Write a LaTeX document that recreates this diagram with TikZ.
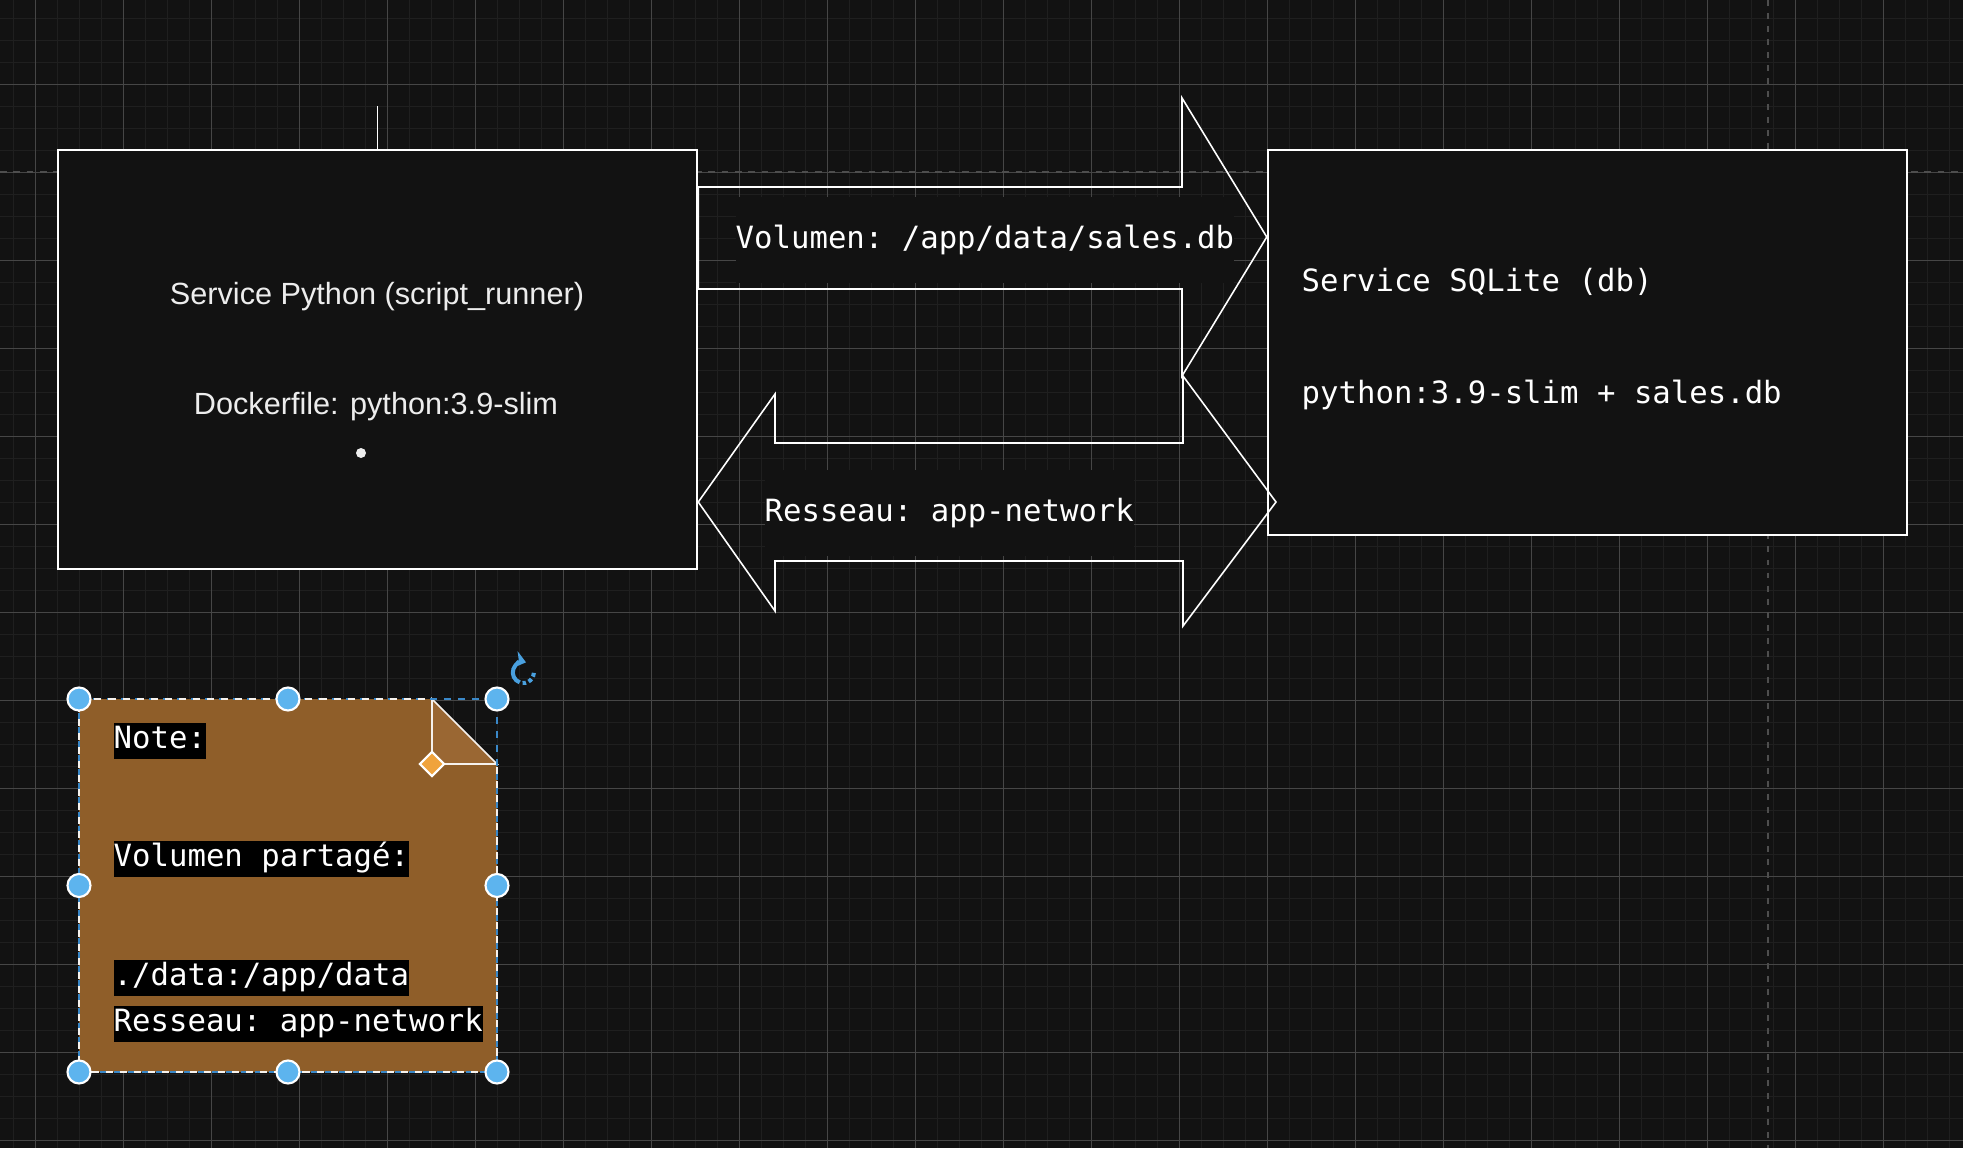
\documentclass[tikz,border=0pt]{standalone}
\usepackage{fontspec}
\setmainfont{Liberation Sans}
\setmonofont{DejaVu Sans Mono}
\usetikzlibrary{positioning,arrows.meta,calc,shapes.geometric}
\definecolor{bg}{HTML}{121212}
\definecolor{gmin}{HTML}{1F1F1F}
\definecolor{gmaj}{HTML}{464646}
\definecolor{guide}{HTML}{4E4E4E}
\definecolor{txt}{HTML}{EDEDED}
\definecolor{notefill}{HTML}{8F5E29}
\definecolor{foldfill}{HTML}{9A6733}
\definecolor{handle}{HTML}{5DB4EE}
\definecolor{selblue}{HTML}{3A88C8}
\definecolor{knob}{HTML}{F0A33C}
\definecolor{rotc}{HTML}{49A0DF}
\tikzset{
  svc/.style={draw=white, fill=bg, line width=0.6pt, inner sep=0pt},
  sans/.style={font=\fontsize{8.72}{10.2}\selectfont, text=txt, inner sep=0pt},
  mono/.style={font=\ttfamily\fontsize{8.72}{10.2}\selectfont, text=white, inner sep=0pt},
  blk/.style={draw=white, line width=0.45pt},
  lbl/.style={mono, fill=bg, anchor=west},
  hl/.style={mono, fill=black, anchor=west},
  hd/.style={circle, fill=handle, draw=white, line width=0.6pt, minimum size=0.23cm, inner sep=0pt},
  gl/.style={line width=0.55pt, guide},
}

\begin{document}
\begin{tikzpicture}[x=0.01cm, y=-0.01cm]
\fill[bg] (0,0) rectangle (1963,1148);
\useasboundingbox (0,0) rectangle (1963,1148);
% canvas grid
\foreach \i in {0,...,89} \draw[gmin, line width=0.42pt] ({13.3+22*\i},0) -- ++(0,1148);
\foreach \j in {0,...,52} \draw[gmin, line width=0.42pt] (0,{18.3+22*\j}) -- ++(1963,0);
\foreach \i in {0,...,22} \draw[gmaj, line width=0.28pt] ({35.3+88*\i},0) -- ++(0,1148);
\foreach \j in {0,...,12} \draw[gmaj, line width=0.28pt] (0,{84.3+88*\j}) -- ++(1963,0);
\draw[gl, dash pattern=on 1.9pt off 1.9pt] (0,172.3) -- (1963,172.3);
\draw[gl, dash pattern=on 1.7pt off 2pt] (1768,0) -- (1768,1148);

% services
\node[svc, minimum width=6.39cm, minimum height=4.19cm] (py) at (377.5,359.5) {};
\node[sans] (pyname) at (377,297) {Service Python (script\_runner)};
\node[sans] (pyimg) at (376,407) {Dockerfile: python:3.9-slim};
\node[circle, fill=txt, minimum size=0.1cm, inner sep=0pt] (pydot) at (361,453) {};
\coordinate (stub) at (377.5,106);
\draw[white, line width=0.3pt] (py.north) -- (stub);

\node[svc, minimum width=6.39cm, minimum height=3.85cm] (db) at (1587.5,342.5) {};
\node[mono, anchor=west] (dbname) at (1301,282) {Service SQLite (db)};
\node[mono, anchor=west] (dbimg) at (1301,395) {python:3.9-slim + sales.db};

% block arrows
\draw[blk] (py.east |- 0,187) -- (1182,187) -- (1182,98) -- (db.west |- 0,237)
  -- (1182,376) -- (1182,289) -- (py.east |- 0,289) -- cycle;
\draw[blk] (py.east |- 0,502) -- (775,394) -- (775,443) -- (1183,443) -- (1183,376)
  -- (1276,502) -- (1183,626) -- (1183,561) -- (775,561) -- (775,611) -- cycle;
\node[lbl, minimum height=0.86cm] (vol) at (735,240) {Volumen: /app/data/sales.db};
\node[lbl, minimum height=0.86cm] (net) at (764,513) {Resseau: app-network};

% note (selected)
\fill[notefill] (79,699) -- (432,699) -- (497,764) -- (497,1072) -- (79,1072) -- cycle;
\filldraw[fill=foldfill, draw=white!92!notefill, line width=0.5pt]
  (432,699) -- (497,764) -- (432,764) -- cycle;
\draw[selblue, line width=0.5pt, dash pattern=on 2pt off 2pt] (79,699) rectangle (497,1072);
\draw[white!92!notefill, line width=0.5pt, dash pattern=on 2pt off 2pt, dash phase=2pt]
  (432,699) -- (79,699) -- (79,1072) -- (497,1072) -- (497,764);
\node[hl] (nt1) at (113,741) {\strut Note:};
\node[hl] (nt2) at (113,859) {\strut Volumen partagé:};
\node[hl] (nt3) at (113,978) {\strut ./data:/app/data};
\node[hl] (nt4) at (113,1024) {\strut Resseau: app-network};
\foreach \p/\n in {{79,699}/h1, {288,699}/h2, {497,699}/h3, {79,885.5}/h4,
  {497,885.5}/h5, {79,1072}/h6, {288,1072}/h7, {497,1072}/h8}
  \node[hd] (\n) at (\p) {};
\node[diamond, fill=knob, draw=white, line width=0.6pt, minimum size=0.25cm, inner sep=0pt] (knob) at (432,764) {};
\coordinate (rot) at (523.3,672.5);
\draw[rotc, line width=1.15pt, -{Stealth[length=0.11cm, width=0.17cm]}]
  ($(rot)+(250:0.105cm)$) arc[start angle=250, end angle=75, radius=0.105cm];
\draw[rotc, line width=1.15pt, dash pattern=on 1.1pt off 0.8pt]
  ($(rot)+(358:0.105cm)$) arc[start angle=358, end angle=266, radius=0.105cm];
\end{tikzpicture}
\end{document}
